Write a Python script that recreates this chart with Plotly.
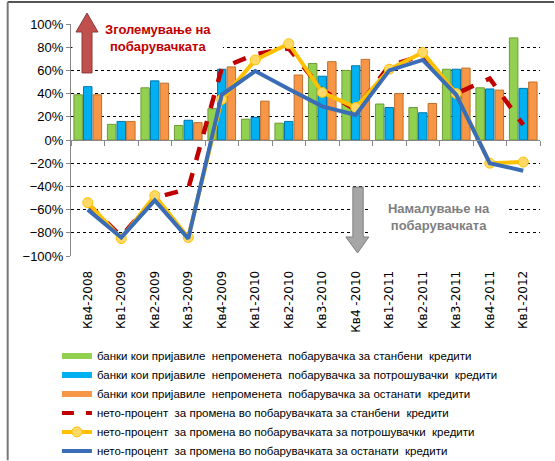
import plotly.graph_objects as go

categories = ["Кв4-2008", "Кв1-2009", "Кв2-2009", "Кв3-2009", "Кв4-2009", "Кв1-2010",
              "Кв2-2010", "Кв3-2010", "Кв4 -2010", "Кв1-2011", "Кв2-2011", "Кв3-2011",
              "Кв4-2011", "Кв1-2012"]

unchanged_housing = [39, 13.5, 45, 12.5, 27, 18, 14.5, 66, 60, 31, 28, 61, 45, 88]
unchanged_consumer = [46, 16, 51, 17, 61, 19.5, 16, 55, 64, 28, 23.5, 61, 44, 44.5]
unchanged_other = [39, 16, 49, 15, 63, 33.5, 56, 67.5, 69.5, 40, 31.5, 62, 43, 50]

net_housing = [-55, -83, -50, -42, 62, 74, 79, 43, 26, 64, 73, 40, 53, 13]
net_consumer = [-54, -85, -48, -84, 35, 69, 83, 41, 28, 61, 75.5, 40, -20, -19]
net_other = [-60, -84, -52, -85, 39, 59.5, 44, 29, 21.5, 60, 69, 39, -20, -26.5]

names = [
    "банки кои пријавиле  непроменета  побарувачка за станбени  кредити",
    "банки кои пријавиле  непроменета  побарувачка за потрошувачки  кредити",
    "банки кои пријавиле  непроменета  побарувачка за останати  кредити",
    "нето-процент  за промена во побарувачката за станбени  кредити",
    "нето-процент  за промена во побарувачката за потрошувачки  кредити",
    "нето-процент  за промена во побарувачката за останати  кредити",
]

GREEN, GREEN_D = "#92D050", "#6E9A35"
BLUE, BLUE_D = "#00B0F0", "#0077B0"
ORANGE, ORANGE_D = "#F79646", "#C0702C"
RED = "#C00000"
YELLOW = "#FFC000"
LBLUE = "#3A6DB5"

NARROW = "Liberation Sans Narrow, Arial Narrow, Liberation Sans, sans-serif"

fig = go.Figure()

for vals, c, cd in [(unchanged_housing, GREEN, GREEN_D),
                    (unchanged_consumer, BLUE, BLUE_D),
                    (unchanged_other, ORANGE, ORANGE_D)]:
    fig.add_trace(go.Bar(x=categories, y=vals, marker=dict(color=c, line=dict(color=cd, width=1)),
                         showlegend=False))

fig.add_trace(go.Scatter(x=categories, y=net_housing, mode="lines",
                         line=dict(color=RED, width=4.5, dash="dash"), showlegend=False))
fig.add_trace(go.Scatter(x=categories, y=net_consumer, mode="lines+markers",
                         line=dict(color=YELLOW, width=4),
                         marker=dict(symbol="circle", size=10, color="#FFD966",
                                     line=dict(color=YELLOW, width=1)), showlegend=False))
fig.add_trace(go.Scatter(x=categories, y=net_other, mode="lines",
                         line=dict(color=LBLUE, width=4), showlegend=False))

# legend proxies
for nm, c, cd in [(names[0], GREEN, GREEN_D), (names[1], BLUE, BLUE_D), (names[2], ORANGE, ORANGE_D)]:
    fig.add_trace(go.Scatter(x=[None], y=[None], mode="lines", name=nm,
                             line=dict(color=c, width=6)))
fig.add_trace(go.Scatter(x=[None], y=[None], mode="lines", name=names[3],
                         line=dict(color=RED, width=4, dash="dash")))
fig.add_trace(go.Scatter(x=[None], y=[None], mode="lines+markers", name=names[4],
                         line=dict(color=YELLOW, width=4),
                         marker=dict(symbol="circle", size=10, color="#FFD966",
                                     line=dict(color=YELLOW, width=1))))
fig.add_trace(go.Scatter(x=[None], y=[None], mode="lines", name=names[5],
                         line=dict(color=LBLUE, width=4)))

n = len(categories)

fig.update_layout(
    width=555, height=461,
    margin=dict(l=71, r=15, t=24, b=205, autoexpand=False),
    paper_bgcolor="white", plot_bgcolor="white",
    barmode="group", bargap=0.14, bargroupgap=0.12,
    font=dict(family=NARROW, size=13, color="black"),
    xaxis=dict(type="category", range=[-0.5, n - 0.5], showgrid=False, showline=False,
               zeroline=False, ticks="outside", ticklen=9, tickcolor="rgba(0,0,0,0)",
               tickangle=-90, tickfont=dict(family="DejaVu Sans", size=12, color="black")),
    xaxis2=dict(overlaying="x", anchor="free", position=0.5, range=[-0.5, n - 0.5],
                tickvals=[i - 0.5 for i in range(n + 1)], ticks="outside", ticklen=5,
                tickcolor="#888888", showticklabels=False, showline=True,
                linecolor="#888888", linewidth=1, showgrid=False, zeroline=False),
    yaxis=dict(range=[-100, 100], dtick=20, ticksuffix="%", showgrid=True,
               gridcolor="#000000", griddash="dot", gridwidth=1, zeroline=False,
               showline=True, linecolor="#888888", linewidth=1, ticks="outside",
               ticklen=4, tickcolor="#888888",
               tickfont=dict(family=NARROW, size=13, color="black")),
    legend=dict(x=-0.03, y=-0.368, xanchor="left", yanchor="top", orientation="v",
                font=dict(family="Liberation Sans, sans-serif", size=11.5, color="black"),
                itemwidth=30, tracegroupgap=0, bgcolor="rgba(0,0,0,0)"),
)

# dummy trace to activate xaxis2
fig.add_trace(go.Scatter(x=[None], y=[None], xaxis="x2", showlegend=False))

# white box hiding gridlines behind the red label
fig.add_shape(type="rect", xref="paper", yref="paper", x0=0.003, x1=0.324, y0=0.84, y1=1.004,
              fillcolor="white", line=dict(width=0), layer="above")

# frame
fig.add_shape(type="line", xref="paper", yref="paper", x0=-0.135, x1=1.03, y0=1.095, y1=1.095,
              line=dict(color="#555555", width=2))
fig.add_shape(type="line", xref="paper", yref="paper", x0=-0.135, x1=-0.135, y0=1.095, y1=-0.88,
              line=dict(color="#777777", width=2))

# red up arrow
fig.add_shape(type="path", xref="paper", yref="paper",
              path="M 0.0235 0.789 L 0.0448 0.789 L 0.0448 0.9655 L 0.0576 0.9655 "
                   "L 0.0341 1.047 L 0.0107 0.9655 L 0.0235 0.9655 Z",
              fillcolor="#C0504D", line=dict(color="#8C3836", width=1))

fig.add_annotation(xref="paper", yref="paper", x=(158 - 71) / 469, y=(256 - 38) / 232,
                   xanchor="center", yanchor="middle",
                   text="<b>Зголемување на<br>побарувачката</b>", showarrow=False,
                   font=dict(family=NARROW, size=13, color=RED), align="center")
fig.add_annotation(xref="paper", yref="paper", x=(439 - 71) / 469, y=(256 - 217) / 232,
                   xanchor="center", yanchor="middle",
                   text="<b>Намалување на<br>побарувачката</b>", showarrow=False,
                   font=dict(family=NARROW, size=13, color="#7F7F7F"), align="center",
                   bgcolor="white", width=134, height=42)

# grey down arrow
fig.add_shape(type="path", xref="paper", yref="paper",
              path="M 0.601 0.297 L 0.623 0.297 L 0.623 0.082 L 0.635 0.082 "
                   "L 0.611 0.013 L 0.586 0.082 L 0.601 0.082 Z",
              fillcolor="#A6A6A6", line=dict(color="#7F7F7F", width=1))

fig.write_html("out.html", config={"displayModeBar": False},
               post_script="document.body.style.margin='0px';")
